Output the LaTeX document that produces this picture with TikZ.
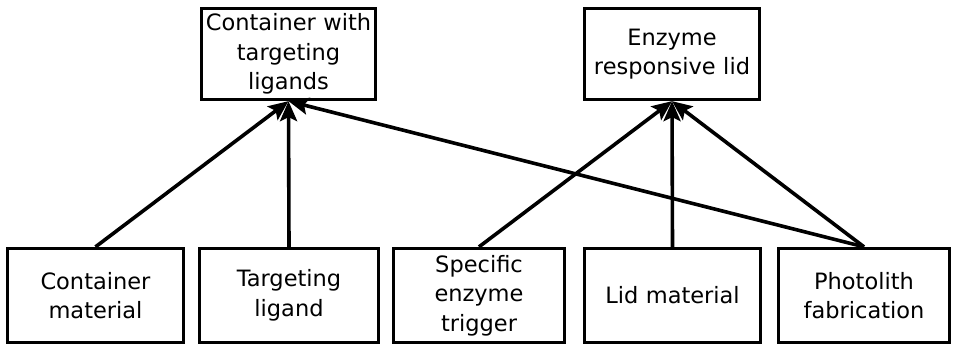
\documentclass[tikz,border=0pt]{standalone}
\usepackage{fontspec}
\setmainfont{DejaVu Sans}
\usetikzlibrary{arrows.meta}
\begin{document}
\begin{tikzpicture}[x=1pt,y=1pt,
  box/.style={draw=black, line width=3.3pt, fill=white, inner sep=0pt,
    align=center, font=\fontsize{22.5}{29.5}\selectfont},
  link/.style={line width=3.6pt, -{Stealth[length=20pt,width=17pt,inset=4pt]}}]
  \useasboundingbox (0,0) rectangle (955,346);
  % goals
  \node[box, minimum width=174pt, minimum height=91pt, text width=174pt] (cont) at (288.5,292)
    {Container with\\targeting\\ligands};
  \node[box, minimum width=175pt, minimum height=91pt, text width=175pt] (lid) at (672,292)
    {Enzyme\\responsive lid};
  % ingredients
  \node[box, minimum width=176pt, minimum height=94pt, text width=176pt] (cmat) at (95.5,50.5)
    {Container\\material};
  \node[box, minimum width=179pt, minimum height=94pt, text width=179pt] (tlig) at (289,50.5)
    {Targeting\\ligand};
  \node[box, minimum width=171pt, minimum height=94pt, text width=171pt] (trig) at (479,50.5)
    {Specific\\enzyme\\trigger};
  \node[box, minimum width=176pt, minimum height=94pt, text width=176pt] (lmat) at (672.5,50.5)
    {Lid material};
  \node[box, minimum width=171pt, minimum height=94pt, text width=171pt] (phot) at (864,50.5)
    {Photolith\\fabrication};
  % dependencies
  \draw[link] (cmat.north) -- (cont.south);
  \draw[link] (tlig.north) -- (cont.south);
  \draw[link] (phot.north) -- (cont.south);
  \draw[link] (trig.north) -- (lid.south);
  \draw[link] (lmat.north) -- (lid.south);
  \draw[link] (phot.north) -- (lid.south);
\end{tikzpicture}
\end{document}
